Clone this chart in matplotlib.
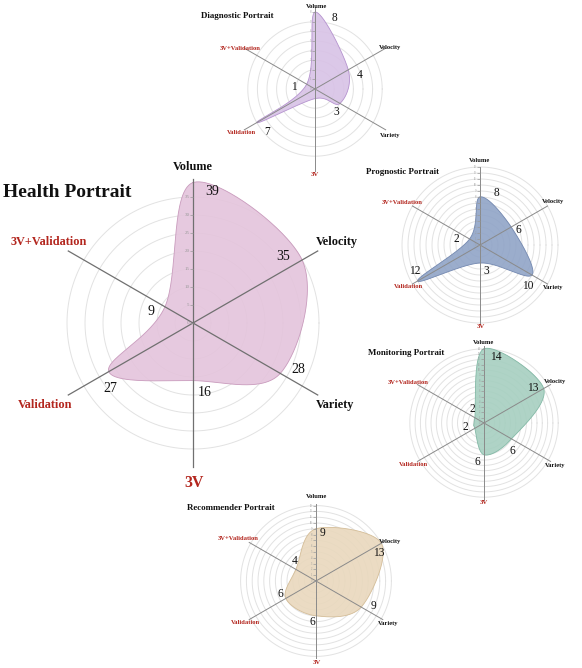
import numpy as np
import matplotlib
matplotlib.use("Agg")
import matplotlib.pyplot as plt

# ---------------- data ----------------
dimensions = ["Volume", "Velocity", "Variety", "3V", "Validation", "3V+Validation"]
health_values = [39, 35, 28, 16, 27, 9]
diagnostic_values = [8, 4, 3, 1, 7, 1]
prognostic_values = [8, 6, 10, 3, 12, 2]
monitoring_values = [14, 13, 6, 6, 2, 2]
recommender_values = [9, 13, 9, 6, 6, 4]
titles = ["Health Portrait", "Diagnostic Portrait", "Prognostic Portrait",
          "Monitoring Portrait", "Recommender Portrait"]

# ---------------- layout / style ----------------
W, H = 582, 668
DPI = 100
angles = np.deg2rad([90, 30, -30, -90, 210, 150])
name_colors = ["#111111", "#111111", "#111111", "#b3261e", "#b3261e", "#b3261e"]
SERIF = ["Liberation Serif", "DejaVu Serif"]

charts = [
    dict(values=health_values, title=titles[0], center=(193, 323), scale=3.6,
         axis_len=40, rings=list(range(5, 36, 5)), ticks=list(range(0, 36, 5)),
         fill="#e4c4dc", edge="#c99bbd", title_pos=(67, 192), title_fs=14,
         name_fs=8.8, name3v_fs=11.5, val_fs=10, tick_fs=3.6, axis_color="#707070",
         axis_lw=0.9,
         val_off=[(19, -9), (-19, 4), (18, 4), (12, -12), (1, -17), (-14, -5)],
         name_off=[(0, -156), (144, -81), (142, 82), (1, 160), (-148, 82), (-144, -81)]),
    dict(values=diagnostic_values, title=titles[1], center=(315, 89), scale=9.6,
         axis_len=8.5, rings=list(range(1, 8)), ticks=list(range(0, 9)),
         fill="#d8c2e6", edge="#b593cf", title_pos=(237, 16), title_fs=6.4,
         name_fs=4.7, name3v_fs=4.9, val_fs=8.3, tick_fs=2.2, axis_color="#8a8a8a",
         axis_lw=0.7,
         val_off=[(20, -6), (11, -5), (-4, -9), None, (10, -9), (-13, -3)],
         name_off=[(2, -83), (75, -41), (75, 46), (0, 85), (-74, 43), (-75, -41)]),
    dict(values=prognostic_values, title=titles[2], center=(480, 245), scale=6.0,
         axis_len=13, rings=list(range(1, 14)), ticks=list(range(0, 14)),
         fill="#90a4c7", edge="#7388b0", title_pos=(402, 172), title_fs=6.4,
         name_fs=4.7, name3v_fs=4.9, val_fs=8.3, tick_fs=2.0, axis_color="#8a8a8a",
         axis_lw=0.7,
         val_off=[(16, 4), (7, -3), (-4, -11), (6, -8), (-3, 10), (-13, 0)],
         name_off=[(0, -84), (73, -43), (73, 42), (1, 81), (-72, 42), (-78, -42)]),
    dict(values=monitoring_values, title=titles[3], center=(484, 423), scale=5.3,
         axis_len=14.5, rings=list(range(1, 15)), ticks=list(range(0, 15)),
         fill="#a6cfc0", edge="#83b9a6", title_pos=(406, 353), title_fs=6.4,
         name_fs=4.7, name3v_fs=4.9, val_fs=8.3, tick_fs=2.0, axis_color="#8a8a8a",
         axis_lw=0.7,
         val_off=[(12, -8), (-11, 1), (1, -12), (-7, -7), (-10, 1), (-3, 9)],
         name_off=[(0, -81), (71, -41), (71, 42), (0, 80), (-71, 41), (-76, -41)]),
    dict(values=recommender_values, title=titles[4], center=(316, 581), scale=5.8,
         axis_len=13.3, rings=list(range(1, 14)), ticks=list(range(0, 14)),
         fill="#e9d8bd", edge="#d4bd98", title_pos=(231, 508), title_fs=6.4,
         name_fs=4.7, name3v_fs=4.9, val_fs=8.3, tick_fs=2.0, axis_color="#8a8a8a",
         axis_lw=0.7,
         val_off=[(7, -4), (-3, -10), (12, 1), (-4, -6), (-5, 4), (-1, 8)],
         name_off=[(1, -84), (74, -40), (72, 42), (1, 82), (-71, 42), (-78, -42)]),
]


def closed_spline(vals, n=60):
    v = np.asarray(vals, dtype=float)
    P = np.column_stack([v * np.cos(angles), v * np.sin(angles)])
    k = len(P)
    t = np.linspace(0, 1, n, endpoint=False)[:, None]
    h00 = 2 * t**3 - 3 * t**2 + 1
    h10 = t**3 - 2 * t**2 + t
    h01 = -2 * t**3 + 3 * t**2
    h11 = t**3 - t**2
    segs = []
    for i in range(k):
        p0, p1 = P[i], P[(i + 1) % k]
        m0 = (P[(i + 1) % k] - P[i - 1]) / 2.0
        m1 = (P[(i + 2) % k] - P[i]) / 2.0
        segs.append(h00 * p0 + h10 * m0 + h01 * p1 + h11 * m1)
    pts = np.vstack(segs + [P[:1]])
    theta = np.unwrap(np.arctan2(pts[:, 1], pts[:, 0]))
    r = np.hypot(pts[:, 0], pts[:, 1])
    return theta, r


fig = plt.figure(figsize=(W / DPI, H / DPI), dpi=DPI)
fig.patch.set_facecolor("white")

for c in charts:
    cx, cy = c["center"]
    rlim = c["axis_len"]
    R = rlim * c["scale"]
    ax = fig.add_axes([(cx - R) / W, 1 - (cy + R) / H, 2 * R / W, 2 * R / H],
                      projection="polar")
    ax.axis("off")
    ax.set_autoscale_on(False)
    ax.set_ylim(0, rlim)

    # rings
    tt = np.linspace(0, 2 * np.pi, 361)
    for rr in c["rings"]:
        ax.plot(tt, np.full_like(tt, rr), color="#e2e2e2", lw=0.7, zorder=1,
                clip_on=False)

    # smooth area
    th, rr = closed_spline(c["values"])
    ax.fill(th, rr, facecolor=c["fill"], edgecolor="none", alpha=0.9, zorder=2,
            clip_on=False)
    ax.plot(th, rr, color=c["edge"], lw=0.6, zorder=2.5, clip_on=False)

    # axis lines
    for a in angles:
        ax.plot([a, a], [0, rlim], color=c["axis_color"], lw=c["axis_lw"], zorder=3,
                clip_on=False)

    # radial ticks along Volume axis
    ax.plot([np.pi / 2] * len(c["ticks"]), c["ticks"], linestyle="none", marker=0,
            ms=2.2, mew=0.5, color="#9a9a9a", zorder=3, clip_on=False)
    for tk in c["ticks"]:
        ax.annotate(str(tk), xy=(np.pi / 2, tk), xytext=(-3.5, 0),
                    textcoords="offset pixels", ha="right", va="center",
                    fontsize=c["tick_fs"], color="#9a9a9a", family=SERIF,
                    annotation_clip=False, zorder=3)

    # value labels
    for a, v, off in zip(angles, c["values"], c["val_off"]):
        if off is None:
            continue
        ax.annotate(str(v), xy=(a, v), xytext=off, textcoords="offset pixels",
                    ha="center", va="center", fontsize=c["val_fs"], color="#111111",
                    family=SERIF, annotation_clip=False, zorder=5)

    # dimension names
    for name, col, off in zip(dimensions, name_colors, c["name_off"]):
        fs = c["name3v_fs"] if name == "3V" else c["name_fs"]
        ax.annotate(name, xy=(0, 0), xytext=(off[0], -off[1]),
                    textcoords="offset pixels", ha="center", va="center",
                    fontsize=fs, color=col, fontweight="bold", family=SERIF,
                    annotation_clip=False, zorder=5)

    # title
    tx, ty = c["title_pos"]
    fig.text(tx / W, 1 - ty / H, c["title"], ha="center", va="center",
             fontsize=c["title_fs"], fontweight="bold", family=SERIF, color="#111111")

fig.savefig("out.png", dpi=DPI, facecolor="white")
